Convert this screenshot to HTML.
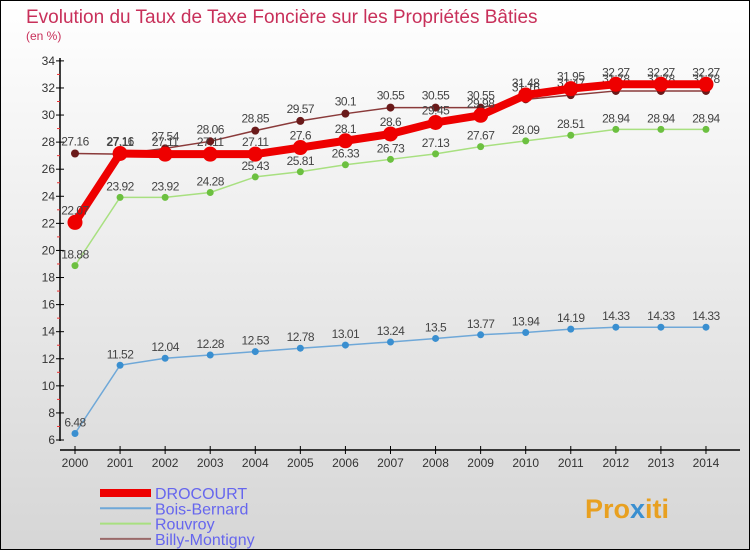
<!DOCTYPE html>
<html><head><meta charset="utf-8"><style>
body{margin:0;width:750px;height:550px;overflow:hidden;font-family:"Liberation Sans",sans-serif}
</style></head><body>
<svg id="c" width="750" height="550" xmlns="http://www.w3.org/2000/svg" font-family="Liberation Sans, sans-serif">
<defs><linearGradient id="bg" x1="0" y1="0" x2="0" y2="1"><stop offset="0" stop-color="#ffffff"/><stop offset="1" stop-color="#d6d6d6"/></linearGradient></defs>
<rect x="0.5" y="0.5" width="749" height="549" fill="url(#bg)" stroke="#000"/>
<text x="26" y="23" font-size="19" fill="#c8305a">Evolution du Taux de Taxe Foncière sur les Propriétés Bâties</text>
<text x="26" y="40" font-size="12" fill="#c8305a">(en %)</text>
<g id="axes"></g><g id="series"></g><g id="legend"></g>
<text x="585" y="518" font-size="27" font-weight="bold" fill="#e8a020">Pro<tspan fill="#3a8fd0">x</tspan>iti</text>
</svg>
<script>
const years=[2000,2001,2002,2003,2004,2005,2006,2007,2008,2009,2010,2011,2012,2013,2014];
const drocourt=[22.07,27.16,27.11,27.11,27.11,27.6,28.1,28.6,29.45,29.98,31.48,31.95,32.27,32.27,32.27];
const boisBernard=[6.48,11.52,12.04,12.28,12.53,12.78,13.01,13.24,13.5,13.77,13.94,14.19,14.33,14.33,14.33];
const rouvroy=[18.88,23.92,23.92,24.28,25.43,25.81,26.33,26.73,27.13,27.67,28.09,28.51,28.94,28.94,28.94];
const billy=[27.16,27.11,27.54,28.06,28.85,29.57,30.1,30.55,30.55,30.55,31.16,31.47,31.78,31.78,31.78];
const yTicks=[6,8,10,12,14,16,18,20,22,24,26,28,30,32,34];
const NS="http://www.w3.org/2000/svg";
const X=i=>75+i*45.07, Y=v=>440-(v-6)*13.54;
function mk(t,a,p){const e=document.createElementNS(NS,t);for(const k in a)e.setAttribute(k,a[k]);p.appendChild(e);return e;}
const ax=document.getElementById('axes');
let l=mk('line',{x1:60,y1:58,x2:60,y2:441,stroke:'#000','stroke-width':1.5},ax);


l=mk('line',{x1:60,y1:450,x2:740,y2:450,stroke:'#000','stroke-width':1.5},ax);


yTicks.forEach((v,i)=>{
 mk('line',{x1:56,x2:64,y1:Y(v),y2:Y(v),stroke:'#000'},ax);
 if(i<yTicks.length-1) mk('line',{x1:57,x2:60,y1:Y(v+1),y2:Y(v+1),stroke:'#e33'},ax);
 const t=mk('text',{x:55,y:Y(v)+4,'font-size':12,'text-anchor':'end',fill:'#333'},ax);t.textContent=v;
 
 
});
years.forEach((y,i)=>{
 mk('line',{x1:X(i),x2:X(i),y1:446,y2:454,stroke:'#000'},ax);
 const t=mk('text',{x:X(i),y:467,'font-size':12,'text-anchor':'middle',fill:'#333'},ax);t.textContent=y;
 
 
});
const sg=document.getElementById('series');
function series(data,name,color,dot,w,r,dy){
 const g=mk('g',{},sg);
 
 
 const p=mk('polyline',{points:data.map((v,i)=>X(i)+','+Y(v)).join(' '),fill:'none',stroke:color,'stroke-width':w},g);
 
 
 data.forEach((v,i)=>{
  const c=mk('circle',{cx:X(i),cy:Y(v),r:r,fill:dot},g);
  
  
  const t=mk('text',{x:X(i),y:Y(v)+dy,'font-size':12,'text-anchor':'middle',fill:'#444','letter-spacing':'-0.5'},g);t.textContent=v;
  
  
 });
}
series(boisBernard,'bois-bernard','#6fa8d8','#3a8fd0',1.5,3.5,-7);
series(rouvroy,'rouvroy','#a8e080','#6cc040',1.5,3.5,-7);
series(billy,'billy-montigny','#8a3a3a','#6a1a1a',1.5,4,-8);
series(drocourt,'drocourt','#ee0000','#ee0000',8,7.5,-8);
const lg=document.getElementById('legend');
[['DROCOURT','#ee0000',8],['Bois-Bernard','#6fa8d8',2],['Rouvroy','#a8e080',2],['Billy-Montigny','#9a6a6a',2]].forEach((d,i)=>{
 const y=493+i*15.3;
 const g=mk('g',{},lg);
 
 
 mk('line',{x1:100,x2:151,y1:y,y2:y,stroke:d[1],'stroke-width':d[2]},g);
 const t=mk('text',{x:155,y:y+6,'font-size':16,fill:'#6666ee'},g);t.textContent=d[0];
});
</script>
</body></html>
